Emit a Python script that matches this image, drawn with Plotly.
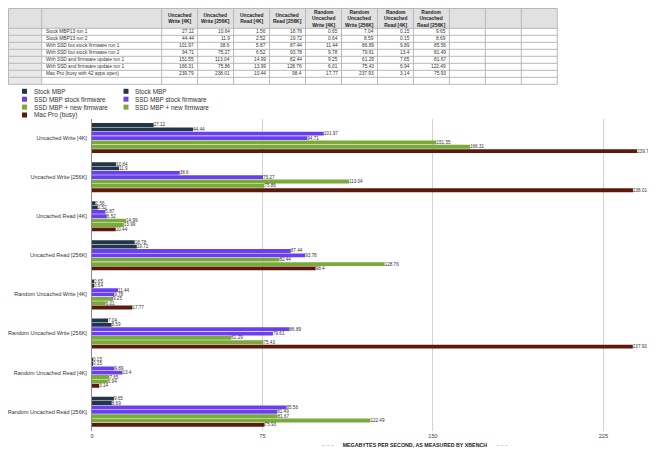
import plotly.graph_objects as go

# the page body adds an 8px margin; figure size and mapping compensate for it
OFF = 8
FW, FH = 648, 451

# ---------------- data ----------------
categories = [
    "Uncached Write [4K]", "Uncached Write [256K]", "Uncached Read [4K]", "Uncached Read [256K]",
    "Random Uncached Write [4K]", "Random Uncached Write [256K]", "Random Uncached Read [4K]",
    "Random Uncached Read [256K]",
]
table_headers = [
    "Uncached<br>Write [4K]", "Uncached<br>Write [256K]", "Uncached<br>Read [4K]", "Uncached<br>Read [256K]",
    "Random<br>Uncached<br>Write [4K]", "Random<br>Uncached<br>Write [256K]", "Random<br>Uncached<br>Read [4K]",
    "Random<br>Uncached<br>Read [256K]",
]
row_names = [
    "Stock MBP13 run 1",
    "Stock MBP13 run 2",
    "With SSD but stock firmware run 1",
    "With SSD but stock firmware run 2",
    "With SSD and firmware update run 1",
    "With SSD and firmware update run 1",
    "Mac Pro (busy with 42 apps open)",
]
legend_names = [
    "Stock MBP", "Stock MBP", "SSD MBP stock firmware", "SSD MBP stock firmware",
    "SSD MBP + new firmware", "SSD MBP + new firmware", "Mac Pro (busy)",
]
stock_run1 = [27.12, 10.64, 1.56, 18.78, 0.65, 7.04, 0.15, 9.65]
stock_run2 = [44.44, 11.9, 2.52, 19.72, 0.64, 8.59, 0.15, 8.69]
ssd_stock_run1 = [101.97, 38.6, 5.87, 87.44, 11.44, 86.89, 9.89, 85.56]
ssd_stock_run2 = [94.71, 75.27, 6.52, 93.78, 9.78, 79.61, 13.4, 81.49]
ssd_new_run1 = [151.55, 113.04, 14.99, 82.44, 9.25, 61.29, 7.65, 81.67]
ssd_new_run2 = [166.31, 75.86, 13.99, 128.76, 6.01, 75.43, 6.94, 122.49]
mac_pro = [239.79, 238.01, 10.44, 98.4, 17.77, 237.93, 3.14, 75.93]
x_ticks = [0, 75, 150, 225]
x_title = "MEGABYTES PER SECOND, AS MEASURED BY XBENCH"

series = [stock_run1, stock_run2, ssd_stock_run1, ssd_stock_run2, ssd_new_run1, ssd_new_run2, mac_pro]
colors = ["#213649", "#213649", "#6a3ff2", "#6a3ff2", "#79aa3a", "#79aa3a", "#5b1a0b"]

FONT = "Liberation Sans, Arial, Helvetica, sans-serif"


def px(x):
    return (x - OFF) / FW


def py(y):
    return 1 - (y - OFF) / FH


fig = go.Figure()

for name, vals, col in zip(legend_names, series, colors):
    fig.add_trace(go.Bar(
        y=categories, x=vals, orientation="h", name=name,
        marker=dict(color=col, line=dict(width=0)),
        text=[str(v) for v in vals], textposition="outside",
        textfont=dict(size=4.6, color="#333333", family=FONT),
        constraintext="none", cliponaxis=False, showlegend=False,
    ))

shapes = []
annotations = []

# ---------------- table ----------------
col_edges = [8.5, 41.7, 161.7] + [161.7 + 35.96 * (i + 1) for i in range(11)]
row_edges = [8.5, 28.3] + [28.3 + 7.0 * (i + 1) for i in range(8)]
t_left, t_right = col_edges[0], col_edges[-1]
t_top, t_bot = row_edges[0], row_edges[-1]

shapes.append(dict(type="rect", xref="paper", yref="paper", x0=px(t_left), x1=px(t_right),
                   y0=py(row_edges[1]), y1=py(t_top), fillcolor="#e1e1e1", line=dict(width=0), layer="below"))
shapes.append(dict(type="rect", xref="paper", yref="paper", x0=px(col_edges[0]), x1=px(col_edges[1]),
                   y0=py(t_bot), y1=py(row_edges[1]), fillcolor="#e9e9e9", line=dict(width=0), layer="below"))
for xe in col_edges:
    shapes.append(dict(type="line", xref="paper", yref="paper", x0=px(xe), x1=px(xe),
                       y0=py(t_top), y1=py(t_bot), line=dict(color="#b8b8b8", width=1)))
for ye in row_edges:
    shapes.append(dict(type="line", xref="paper", yref="paper", x0=px(t_left), x1=px(t_right),
                       y0=py(ye), y1=py(ye), line=dict(color="#b8b8b8", width=1)))

for j, hdr in enumerate(table_headers):
    cx = (col_edges[2 + j] + col_edges[3 + j]) / 2
    annotations.append(dict(xref="paper", yref="paper", x=px(cx), y=py((row_edges[0] + row_edges[1]) / 2 + 0.5),
                            text="<b>" + hdr + "</b>", showarrow=False, xanchor="center", yanchor="middle",
                            align="center", font=dict(size=4.9, color="#222222", family=FONT)))

for i, (rn, vals) in enumerate(zip(row_names, series)):
    cy = (row_edges[1 + i] + row_edges[2 + i]) / 2
    annotations.append(dict(xref="paper", yref="paper", x=px(col_edges[1] + 2.5), y=py(cy),
                            text=rn, showarrow=False, xanchor="left", yanchor="middle",
                            font=dict(size=4.8, color="#333333", family=FONT)))
    for j, v in enumerate(vals):
        annotations.append(dict(xref="paper", yref="paper", x=px(col_edges[3 + j] - 1.5), y=py(cy),
                                text=str(v), showarrow=False, xanchor="right", yanchor="middle",
                                font=dict(size=4.8, color="#333333", family=FONT)))

# ---------------- legend (custom) ----------------
for i, (name, col) in enumerate(zip(legend_names, colors)):
    r, c = i // 2, i % 2
    x0 = 22 + c * 101.5
    yc = 91.3 + r * 7.9
    shapes.append(dict(type="rect", xref="paper", yref="paper", x0=px(x0), x1=px(x0 + 5),
                       y0=py(yc + 2.5), y1=py(yc - 2.5), fillcolor=col, line=dict(width=0)))
    annotations.append(dict(xref="paper", yref="paper", x=px(x0 + 9.5), y=py(yc),
                            text=name, showarrow=False, xanchor="left", yanchor="middle",
                            font=dict(size=6.4, color="#333333", family=FONT)))

# ---------------- axis title ----------------
annotations.append(dict(xref="paper", yref="paper", x=px(415), y=py(445),
                        text="<span style='color:#9a9a9a'>– – –</span>      <b>" + x_title +
                             "</b>      <span style='color:#9a9a9a'>– – –</span>",
                        showarrow=False, xanchor="center", yanchor="middle",
                        font=dict(size=5.3, color="#222222", family=FONT)))

plot_x0, plot_x1 = 92, 637.5
plot_y0, plot_y1 = 118.5, 431.3

fig.update_layout(
    width=FW, height=FH,
    margin=dict(l=0, r=0, t=0, b=0, autoexpand=False),
    paper_bgcolor="white", plot_bgcolor="white",
    barmode="group", bargap=0.22, bargroupgap=0.12,
    font=dict(family=FONT, color="#333333"),
    shapes=shapes, annotations=annotations,
    xaxis=dict(domain=[px(plot_x0), px(plot_x1)], range=[0, 240], tickvals=x_ticks,
               ticktext=[str(t) for t in x_ticks], showgrid=True, gridcolor="#d2d2d2", gridwidth=1,
               zeroline=False, showline=False, ticks="", anchor="y", automargin=False,
               tickfont=dict(size=5.6, color="#444444", family=FONT)),
    yaxis=dict(domain=[py(plot_y1), py(plot_y0)], type="category", categoryorder="array",
               categoryarray=categories, range=[7.5, -0.5], showgrid=False, zeroline=False,
               showline=True, linecolor="#8c8c8c", linewidth=1, ticks="outside", ticklen=3,
               tickcolor="rgba(0,0,0,0)", automargin=False,
               tickfont=dict(size=5.5, color="#333333", family=FONT)),
)

fig.write_html("out.html")
